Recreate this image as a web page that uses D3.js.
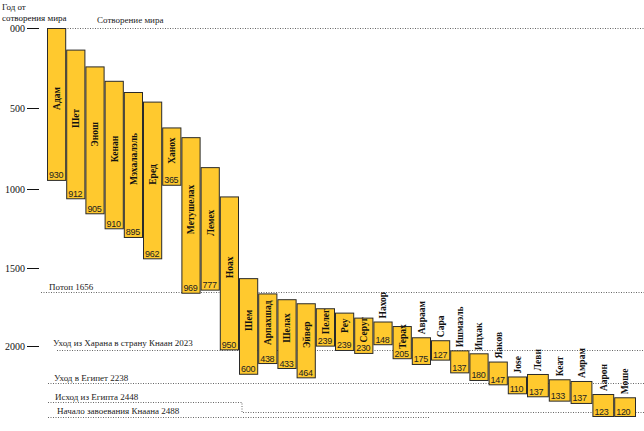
<!DOCTYPE html>
<html><head><meta charset="utf-8">
<script src="https://cdn.jsdelivr.net/npm/d3@7"></script>
<style>body{margin:0;background:#fff}svg{display:block}</style>
</head><body><svg id="c" width="644" height="431"></svg>
<script>
const names = ["Адам","Шет","Энош","Кенан","Мэхалалэль","Еред","Ханох","Метушелах","Лемех","Ноах",
  "Шем","Арпахшад","Шелах","Эйвер","Пелег","Реу","Серуг","Нахор","Терах","Авраам",
  "Сара","Ишмаэль","Ицхак","Яаков","Jose","Леви","Кеат","Амрам","Аарон","Моше"];
const born = [0,135,240,330,400,460,620,680,865,1047,
  1565,1663,1700,1726,1758,1786,1818,1843,1872,1944,
  1963,2028,2047,2100,2196,2180,2214,2225,2319,2343];
const died = [950,1065,1160,1255,1310,1445,980,1665,1645,2028,
  2185,2116,2148,2208,2004,2032,2051,1995,2085,2122,
  2094,2176,2225,2255,2321,2343,2375,2392,2488,2488];
const lifespans = ["930","912","905","910","895","962","365","969","777","950",
  "600","438","433","464","239","239","230","148","205","175",
  "127","137","180","147","110","137","133","137","123","120"];
const yTicks = [0,500,1000,1500,2000];
const tickLabels = ["000","500","1000","1500","2000"];
const events = ["Сотворение  мира","Потоп 1656","Уход из Харана в страну Кнаан 2023",
  "Уход в Египет 2238","Исход из Египта 2448","Начало завоевания Кнаана 2488"];
const eventYears = [0,1656,2023,2238,2448,2488];

// layout / style (not data)
const eventLayout = [
  {x0:65, x1:644, lx:97, dy:-6},
  {x0:41, x1:644, lx:49, dy:-3},
  {x0:57, x1:644, lx:53, dy:-5},
  {x0:48, x1:644, lx:54, dy:-3},
  {x0:48, x1:644, lx:55, dy:-3, step:242, rise:10},
  {x0:48, x1:430, lx:57, dy:-4}
];
const serif = "'Liberation Serif','Times New Roman',serif";
const barFill = "#FFC92E";

const svg = d3.select("#c");
const y = d3.scaleLinear().domain([0,500,1000,1500,2000,2238,2488]).range([28,108,189,268,346,383,417]);
const x = d3.scaleLinear().domain([0,25,30]).range([47,527,636]);

// title
svg.append("text").attr("x",2).attr("y",10).attr("font-family",serif).attr("font-size",9).attr("fill","#111").text("Год от");
svg.append("text").attr("x",2).attr("y",21).attr("font-family",serif).attr("font-size",9).attr("fill","#111").text("сотворения мира");

// axis
const ax = svg.append("g").attr("transform","translate(39,0)")
  .call(d3.axisLeft(y).tickValues(yTicks).tickFormat((d,i)=>tickLabels[i]).tickSize(12).tickPadding(2));
ax.select(".domain").remove();
ax.selectAll("line").attr("stroke","#111").attr("stroke-width",1);
ax.selectAll("text").attr("font-family",serif).attr("font-size",10).attr("fill","#111");

// event lines
const eg = svg.append("g");
events.forEach((t,i)=>{
  const L = eventLayout[i];
  const yy = Math.round(y(eventYears[i]))+0.5;
  let d, ly = yy;
  if (L.step) {
    ly = yy - L.rise;
    d = `M${L.x0},${ly}H${L.step}V${yy}H${L.x1}`;
  } else {
    d = `M${L.x0},${yy}H${L.x1}`;
  }
  eg.append("text").attr("x",L.lx).attr("y",ly+L.dy).attr("font-family",serif).attr("font-size",9).attr("fill","#222").text(t);
  eg.append("path").attr("d",d).attr("fill","none").attr("stroke","#666").attr("stroke-width",1).attr("stroke-dasharray","1,1.5");
});

// bars
const bg = svg.append("g");
names.forEach((n,i)=>{
  const x0 = x(i), x1 = x(i+1);
  const y0 = y(born[i]), y1 = y(died[i]);
  bg.append("rect").attr("x",x0+0.5).attr("y",y0+0.5).attr("width",x1-x0-1).attr("height",y1-y0-1)
    .attr("fill",barFill).attr("stroke","#2a2a2a").attr("stroke-width",1);
});
names.forEach((n,i)=>{
  const x0 = x(i), x1 = x(i+1), cx = (x0+x1)/2;
  const y0 = y(born[i]), y1 = y(died[i]);
  bg.append("text").attr("x",x0+2).attr("y",y1-2.5).attr("font-family","'Liberation Sans',Arial,sans-serif")
    .attr("font-size",9).attr("letter-spacing",-0.3).attr("fill","#222").text(lifespans[i]);
  const t = bg.append("text").attr("font-family",serif).attr("font-size",9.5).attr("font-weight","bold")
    .attr("fill","#111").text(n);
  const len = t.node().getComputedTextLength();
  const avail = (y1 - y0) - 12;
  if (len <= avail + 5) {
    const cy = (y0 + y1 - 12)/2;
    t.attr("text-anchor","middle").attr("dy","0.35em").attr("transform",`translate(${cx},${cy}) rotate(-90)`);
  } else {
    t.attr("text-anchor","start").attr("dy","0.35em").attr("transform",`translate(${cx},${y0-3}) rotate(-90)`);
  }
});
</script></body></html>
